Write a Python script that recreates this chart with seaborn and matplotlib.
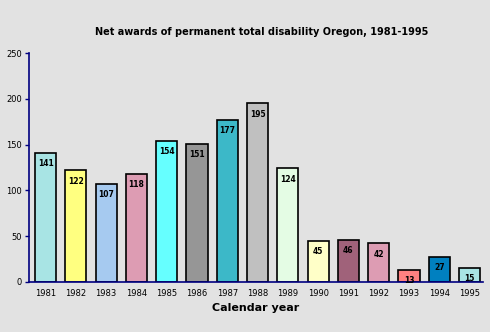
import matplotlib
matplotlib.use("Agg")
import matplotlib.pyplot as plt
import seaborn as sns
import pandas as pd

years = ["1981", "1982", "1983", "1984", "1985", "1986", "1987", "1988",
         "1989", "1990", "1991", "1992", "1993", "1994", "1995"]
awards = [141, 122, 107, 118, 154, 151, 177, 195, 124, 45, 46, 42, 13, 27, 15]
colors = ["#a8e4e4", "#ffff80", "#a6caf0", "#dd9cb3", "#66ffff", "#969696",
          "#3cb8c8", "#c0c0c0", "#e4fce4", "#ffffc8", "#a0627a", "#dd9cb3",
          "#ff8080", "#0080c0", "#a8e4e4"]
title = "Net awards of permanent total disability Oregon, 1981-1995"
xlabel = "Calendar year"
yticks = [0, 50, 100, 150, 200, 250]

df = pd.DataFrame({"year": years, "awards": awards})

sns.set_style("white")
plt.rcParams["font.family"] = ["DejaVu Sans"]
plt.rcParams["text.color"] = "black"
plt.rcParams["axes.labelcolor"] = "black"
plt.rcParams["xtick.color"] = "black"
plt.rcParams["ytick.color"] = "black"

bg = "#e2e2e2"
fig = plt.figure(figsize=(4.9, 3.32), dpi=100, facecolor=bg)
ax = fig.add_axes([0.059, 0.151, 0.927, 0.689])
ax.set_facecolor(bg)

sns.barplot(data=df, x="year", y="awards", hue="year", palette=colors,
            legend=False, width=0.7, edgecolor="black", linewidth=1.2,
            saturation=1, ax=ax)

for cont in ax.containers:
    ax.bar_label(cont, padding=-11, fontsize=5.5, fontweight="bold", color="black")

ax.set_ylim(0, 250)
ax.set_xlim(-0.55, 14.45)
ax.set_yticks(yticks)
ax.set_yticklabels([str(t) for t in yticks], fontsize=6, color="black")
ax.tick_params(axis="y", length=3, width=1, color="#000080", pad=2, left=True,
               labelcolor="black")
ax.tick_params(axis="x", length=0, labelsize=6, pad=5, labelcolor="black")
for s in ["top", "right"]:
    ax.spines[s].set_visible(False)
for s in ["left", "bottom"]:
    ax.spines[s].set_color("#000080")
    ax.spines[s].set_linewidth(1.2)

ax.set_ylabel("")
ax.set_xlabel(xlabel, fontsize=8, fontweight="bold", labelpad=4, color="black")
fig.suptitle(title, x=0.535, y=0.92, fontsize=7, fontweight="bold", color="black")

fig.savefig("out.png", dpi=100, facecolor=bg)
